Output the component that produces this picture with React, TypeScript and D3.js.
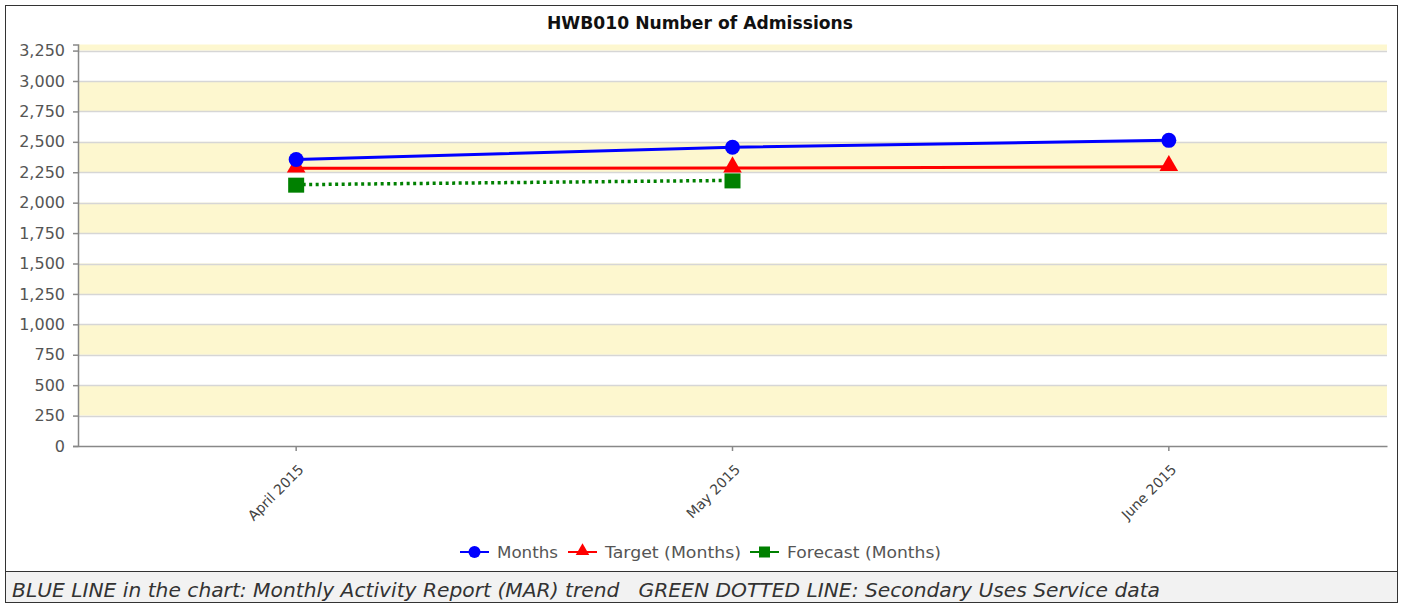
import * as d3 from 'd3';
import { useEffect, useRef } from 'react';

const categories = ['April 2015', 'May 2015', 'June 2015'];
const months = [2355, 2455, 2512];
const target = [2283, 2284, 2296];
const forecast = [2148, 2183];
const yTicks = [0, 250, 500, 750, 1000, 1250, 1500, 1750, 2000, 2250, 2500, 2750, 3000, 3250];
const legendNames = ['Months', 'Target (Months)', 'Forecast (Months)'];
const caption = 'BLUE LINE in the chart: Monthly Activity Report (MAR) trend   GREEN DOTTED LINE: Secondary Uses Service data';

const W = 1404;
const H = 607;
const font = "'DejaVu Sans', Verdana, sans-serif";

function App() {
  const ref = useRef<SVGSVGElement>(null);

  useEffect(() => {
    const svg = d3.select(ref.current);
    svg.selectAll('*').remove();

    const margin = { top: 44.5, left: 78, right: 1387, bottom: 446 };

    // outer frame
    svg.append('rect').attr('x', 5.5).attr('y', 5.5).attr('width', 1392).attr('height', 597)
      .attr('fill', '#fff').attr('stroke', '#333');
    svg.append('rect').attr('x', 5.5).attr('y', 571.5).attr('width', 1392).attr('height', 31)
      .attr('fill', '#f2f2f2').attr('stroke', '#333');

    svg.append('text').attr('x', 700).attr('y', 29).attr('text-anchor', 'middle')
      .attr('font-family', font).attr('font-weight', 'bold').attr('font-size', 17).attr('fill', '#111')
      .attr('textLength', 306).attr('lengthAdjust', 'spacingAndGlyphs')
      .text('HWB010 Number of Admissions');

    const x = d3.scaleBand().domain(categories).range([margin.left, margin.right]);
    const y = d3.scaleLinear().domain([0, 3300]).range([margin.bottom, margin.top]);
    const cx = (c: string) => (x(c) as number) + x.bandwidth() / 2;

    // alternating bands
    const bandStarts = yTicks.filter((t, i) => i % 2 === 1);
    svg.append('g').selectAll('rect').data(bandStarts).enter().append('rect')
      .attr('x', margin.left).attr('width', margin.right - margin.left)
      .attr('y', d => y(Math.min(d + 250, 3300)))
      .attr('height', d => y(d) - y(Math.min(d + 250, 3300)))
      .attr('fill', '#fdf7cf');

    // gridlines
    svg.append('g').selectAll('line').data(yTicks.slice(1)).enter().append('line')
      .attr('x1', margin.left).attr('x2', margin.right)
      .attr('y1', d => Math.round(y(d)) + 0.5).attr('y2', d => Math.round(y(d)) + 0.5)
      .attr('stroke', '#d6d6d6').attr('stroke-width', 1.5);

    // y axis
    const yAxis = svg.append('g').attr('transform', `translate(${margin.left},0)`)
      .call(d3.axisLeft(y).tickValues(yTicks).tickSize(5).tickPadding(8).tickFormat(d3.format(',')));
    yAxis.selectAll('path, line').attr('stroke', '#888').attr('stroke-width', 1.5);
    yAxis.selectAll('text').attr('font-family', font).attr('font-size', 16).attr('fill', '#555');

    // x axis
    const xAxis = svg.append('g').attr('transform', `translate(0,${margin.bottom})`)
      .call(d3.axisBottom(x).tickSize(5).tickSizeOuter(0));
    xAxis.selectAll('path, line').attr('stroke', '#888').attr('stroke-width', 1.5);
    xAxis.selectAll('text')
      .attr('font-family', font).attr('font-size', 14).attr('fill', '#444')
      .attr('text-anchor', 'end').attr('x', 0).attr('y', 0).attr('dy', '0.35em')
      .attr('transform', 'translate(5,21) rotate(-45)');

    const line = d3.line<number>().x((d, i) => cx(categories[i])).y(d => y(d));

    svg.append('path').datum(forecast).attr('d', line).attr('fill', 'none')
      .attr('stroke', '#008000').attr('stroke-width', 3.5).attr('stroke-dasharray', '3,3.5');
    svg.append('path').datum(target).attr('d', line).attr('fill', 'none')
      .attr('stroke', '#ff0000').attr('stroke-width', 3);
    svg.append('path').datum(months).attr('d', line).attr('fill', 'none')
      .attr('stroke', '#0000ff').attr('stroke-width', 3);

    const tri = d3.symbol().type(d3.symbolTriangle).size(150);
    svg.append('g').selectAll('path').data(target).enter().append('path')
      .attr('d', tri).attr('fill', '#ff0000')
      .attr('transform', (d, i) => `translate(${cx(categories[i])},${y(d) - 1})`);
    svg.append('g').selectAll('rect').data(forecast).enter().append('rect')
      .attr('x', (d, i) => cx(categories[i]) - 8).attr('y', d => y(d) - 7)
      .attr('width', 16).attr('height', 15).attr('fill', '#008000');
    svg.append('g').selectAll('circle').data(months).enter().append('circle')
      .attr('cx', (d, i) => cx(categories[i])).attr('cy', d => y(d)).attr('r', 7.5)
      .attr('fill', '#0000ff');

    // legend
    const legendX = [460, 568, 750];
    const legendW = [61, 136, 154];
    const colors = ['#0000ff', '#ff0000', '#008000'];
    const ly = 552;
    legendNames.forEach((name, i) => {
      const g = svg.append('g').attr('transform', `translate(${legendX[i]},${ly})`);
      g.append('line').attr('x1', 0).attr('x2', 29).attr('y1', 0).attr('y2', 0)
        .attr('stroke', colors[i]).attr('stroke-width', 2);
      if (i === 0) g.append('circle').attr('cx', 14.5).attr('r', 6).attr('fill', colors[i]);
      if (i === 1) g.append('path').attr('d', d3.symbol().type(d3.symbolTriangle).size(80)())
        .attr('transform', 'translate(14.5,-1)').attr('fill', colors[i]);
      if (i === 2) g.append('rect').attr('x', 9).attr('y', -5.5).attr('width', 11).attr('height', 11).attr('fill', colors[i]);
      g.append('text').attr('x', 37).attr('y', 6).attr('font-family', font).attr('font-size', 16)
        .attr('fill', '#555').attr('textLength', legendW[i]).attr('lengthAdjust', 'spacingAndGlyphs')
        .text(name);
    });

    svg.append('text').attr('x', 12).attr('y', 597).attr('font-family', font)
      .attr('font-style', 'italic').attr('font-size', 19).attr('fill', '#333')
      .attr('textLength', 1148).attr('lengthAdjust', 'spacingAndGlyphs')
      .attr('xml:space', 'preserve').style('white-space', 'pre').text(caption);
  }, []);

  return (
    <svg ref={ref} width={W} height={H} style={{ position: 'absolute', left: 0, top: 0, background: '#fff' }}></svg>
  );
}

export default App;
